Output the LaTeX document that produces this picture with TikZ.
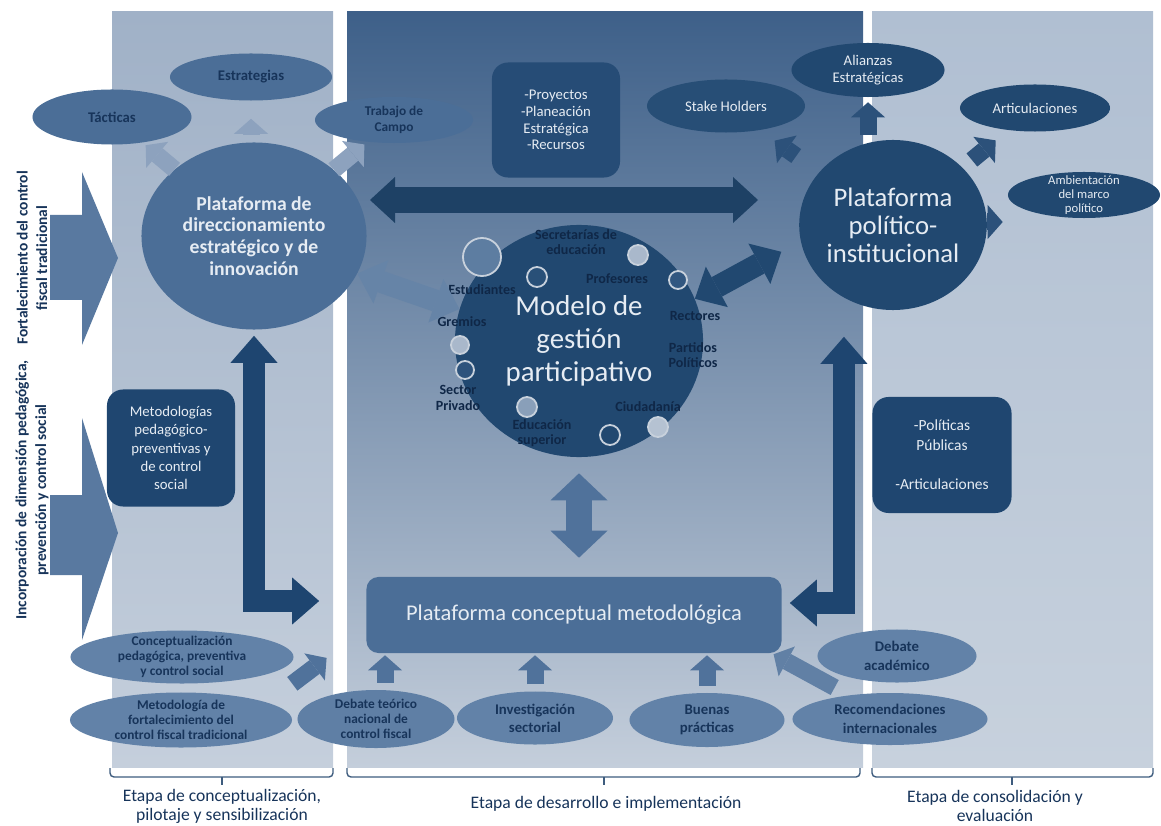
\documentclass[tikz,border=0pt]{standalone}
\usepackage{fontspec}
\setmainfont{Carlito}
\usetikzlibrary{shapes.geometric,arrows.meta,positioning}

% colores
\definecolor{navy}{HTML}{214870}
\definecolor{navytxt}{HTML}{17345A}
\definecolor{darktxt}{HTML}{0F2747}
\definecolor{midblue}{HTML}{4B6E97}
\definecolor{lowblue}{HTML}{6282A8}
\definecolor{boxblue}{HTML}{1F4670}
\definecolor{paleblue}{HTML}{8DA2BE}
\definecolor{arrblue}{HTML}{50729B}
\definecolor{deepblue}{HTML}{1E4570}
\definecolor{ringgrey}{HTML}{C8D1DC}
\definecolor{softwhite}{HTML}{E6ECF3}
\definecolor{brkblue}{HTML}{3E5C7E}
\definecolor{panelLt}{HTML}{A0B1C7}
\definecolor{panelLb}{HTML}{C5CFDC}
\definecolor{panelMt}{HTML}{3E6089}
\definecolor{panelMm}{HTML}{93A7C0}
\definecolor{panelMb}{HTML}{C4CEDB}
\definecolor{panelRt}{HTML}{B0BFD2}
\definecolor{panelRb}{HTML}{C7D1DD}

\tikzset{
  % elipses y cajas
  midell/.style={ellipse, fill=midblue, text=navytxt, inner xsep=0pt, inner ysep=-3mm, align=center,
    font=\fontsize{10.5}{12}\selectfont\bfseries},
  navyell/.style={ellipse, fill=navy, text=softwhite, inner xsep=0pt, inner ysep=-3mm, align=center,
    font=\fontsize{10.5}{12}\selectfont},
  lowell/.style={ellipse, fill=lowblue, text=navytxt, inner xsep=0pt, inner ysep=-3mm, align=center,
    font=\fontsize{9.5}{10.8}\selectfont\bfseries},
  infobox/.style={rectangle, rounded corners=4mm, fill=boxblue, text=softwhite, inner sep=0pt, align=center},
  actor/.style={font=\fontsize{10}{11}\selectfont\bfseries, text=darktxt, align=center, inner sep=0pt},
  ring/.style={circle, draw=ringgrey, line width=0.45mm, inner sep=0pt, fill=midblue},
  etapa/.style={font=\fontsize{12.5}{13.5}\selectfont, text=navytxt, align=center, inner sep=0pt},
  sidelbl/.style={rotate=90, font=\fontsize{11}{14}\selectfont\bfseries, text=navytxt, align=center, inner sep=0pt},
  % flechas
  smallarr/.style={line width=4.25mm, -{Triangle[length=3.75mm,width=8.5mm,line width=0pt]}},
  dblarr/.style={line width=5.5mm,
    {Triangle[length=6.25mm,width=11.5mm,line width=0pt]}-{Triangle[length=6.25mm,width=11.5mm,line width=0pt]}},
  larr/.style={line width=5.5mm, line join=miter, draw=deepblue,
    {Triangle[length=6.75mm,width=11.75mm,line width=0pt]}-{Triangle[length=6.75mm,width=11.75mm,line width=0pt]}},
  bracket/.style={draw=brkblue, line width=0.35mm, rounded corners=1mm},
}

\begin{document}
\begin{tikzpicture}[x=0.025cm, y=-0.025cm]
\useasboundingbox (0,0) rectangle (1161,826);

% columnas de las etapas
\shade[top color=panelLt, bottom color=panelLb] (112,12) rectangle (333,767);
\shade[top color=panelMt, middle color=panelMm, bottom color=panelMb] (347,12) rectangle (863,767);
\shade[top color=panelRt, bottom color=panelRb] (872,12) rectangle (1153,767);

% flechas grandes de la izquierda
\fill[arrblue!95!white] (50,215) -- (82,215) -- (82,172) -- (118,258) -- (82,345) -- (82,300) -- (50,300) -- cycle;
\fill[arrblue!95!white] (50,495) -- (82,495) -- (82,418) -- (118,533) -- (82,640) -- (82,575) -- (50,575) -- cycle;
\node[sidelbl] (fort) at (32,258) {Fortalecimiento del control\\fiscal tradicional};
\node[sidelbl] (incorp) at (32,490) {Incorporación de dimensión pedagógica,\\prevención y control social};

% plataforma de direccionamiento
\node[midell, minimum width=39.75mm, minimum height=13.75mm] (tac) at (112,117) {Tácticas};
\node[midell, minimum width=40.5mm, minimum height=11.75mm] (estr) at (251,77) {Estrategias};
\node[midell, minimum width=39.5mm, minimum height=11.5mm, font=\fontsize{9.5}{11.5}\selectfont\bfseries] (trab) at (394,120) {Trabajo de\\Campo};
\node[ellipse, fill=midblue, text=softwhite, minimum width=56.25mm, minimum height=46.75mm, inner sep=0pt,
  align=center, font=\fontsize{14}{15.5}\selectfont\bfseries] (dir) at (254,236)
  {Plataforma de\\direccionamiento\\estratégico y de\\innovación};
\node[infobox, fill=boxblue!85!midblue, minimum width=32mm, minimum height=28.75mm,
  font=\fontsize{10.5}{12}\selectfont] (proj) at (556,120) {-Proyectos\\-Planeación\\Estratégica\\-Recursos};
\node[infobox, minimum width=32mm, minimum height=29.25mm, font=\fontsize{10.5}{13}\selectfont] (meth) at (171,448)
  {Metodologías\\pedagógico-\\preventivas y\\de control\\social};

% plataforma politico-institucional
\node[navyell, fill=navy!85!midblue, minimum width=39.5mm, minimum height=13.25mm] (stake) at (726,106) {Stake Holders};
\node[navyell, minimum width=38.25mm, minimum height=13.5mm] (alian) at (868,70) {Alianzas\\Estratégicas};
\node[navyell, minimum width=37.5mm, minimum height=11.75mm] (artic) at (1035,108) {Articulaciones};
\node[navyell, minimum width=38mm, minimum height=11.5mm, font=\fontsize{9}{10}\selectfont] (ambi) at (1084,195)
  {Ambientación\\del marco\\político};
\node[ellipse, fill=navy, text=softwhite, minimum width=41.25mm, minimum height=42.5mm, inner sep=0pt,
  align=center, font=\fontsize{19}{20}\selectfont] (pol) at (893,225) {Plataforma\\político-\\institucional};
\node[infobox, minimum width=34.75mm, minimum height=29mm, font=\fontsize{11}{14}\selectfont] (polit) at (942,455)
  {-Políticas\\Públicas\\[14pt]-Articulaciones};

% modelo de gestion
\node[ellipse, fill=navy, text=softwhite, minimum width=62mm, minimum height=58mm, inner sep=0pt,
  align=center, font=\fontsize{20.5}{23.5}\selectfont] (model) at (579,341) {Modelo de\\gestión\\participativo};
\node[ring, minimum size=9.5mm, fill=midblue!90!white] (r1) at (482,257) {};
\node[ring, minimum size=5mm, fill=navy!80!midblue] (r2) at (537,277) {};
\node[ring, minimum size=5mm, fill=ringgrey!75!midblue] (r3) at (638,255) {};
\node[ring, minimum size=4.5mm, fill=navy!60!midblue] (r4) at (678,280) {};
\node[ring, minimum size=4.5mm, fill=ringgrey!75!midblue] (r5) at (460,345) {};
\node[ring, minimum size=4.5mm, fill=navy!70!midblue] (r6) at (465,370) {};
\node[ring, minimum size=5mm, fill=ringgrey!50!midblue] (r7) at (527,407) {};
\node[ring, minimum size=5mm, fill=navy] (r8) at (610,435) {};
\node[ring, minimum size=5mm, fill=ringgrey!85!midblue] (r9) at (658,427) {};
\node[actor] (lsec) at (576,242) {Secretarías de\\educación};
\node[actor] (lprof) at (617,279) {Profesores};
\node[actor] (lest) at (482,290) {Estudiantes};
\node[actor] (lgrem) at (462,322) {Gremios};
\node[actor] (lrect) at (695,316) {Rectores};
\node[actor] (lpart) at (693,355) {Partidos\\Políticos};
\node[actor] (lsect) at (458,398) {Sector\\Privado};
\node[actor] (ledu) at (542,433) {Educación\\superior};
\node[actor] (lciud) at (648,407) {Ciudadanía};

% plataforma conceptual
\node[infobox, rounded corners=3mm, fill=midblue, minimum width=103.75mm, minimum height=19mm,
  font=\fontsize{16}{18}\selectfont] (pcm) at (574,615) {Plataforma conceptual metodológica};
\node[lowell, minimum width=55.75mm, minimum height=13.25mm] (conc) at (182,657) {Conceptualización\\pedagógica, preventiva\\y control social};
\node[lowell, minimum width=55.5mm, minimum height=13.75mm] (metf) at (181,720) {Metodología de\\fortalecimiento del\\control fiscal tradicional};
\node[lowell, fill=lowblue!95!navy, minimum width=39.25mm, minimum height=14.5mm] (deb) at (376,719) {Debate teórico\\nacional de\\control fiscal};
\node[lowell, minimum width=39mm, minimum height=13.25mm, font=\fontsize{10.5}{13}\selectfont\bfseries] (inv) at (535,718) {Investigación\\sectorial};
\node[lowell, minimum width=38.75mm, minimum height=13.5mm, font=\fontsize{10.5}{13}\selectfont\bfseries] (buen) at (707,720) {Buenas\\prácticas};
\node[lowell, minimum width=48.75mm, minimum height=13mm, font=\fontsize{10.5}{13}\selectfont\bfseries] (reco) at (890,719) {Recomendaciones\\internacionales};
\node[lowell, minimum width=39.75mm, minimum height=13.25mm, font=\fontsize{10.5}{13}\selectfont\bfseries] (deba) at (897,656) {Debate\\académico};

% flechas entre plataformas
\coordinate (hl) at (370,200);
\coordinate (hr) at (758,200);
\draw[dblarr, line width=6.25mm, draw=navy!90!black] (hl) -- (hr);
\draw[dblarr, draw=midblue!85!white] (dir.-20) -- (model.165);
\draw[dblarr, draw=navy, shorten >=5.5mm] (model.20) -- (pol.190);
\draw[dblarr, line width=6.5mm, draw=arrblue,
  {Triangle[length=6.75mm,width=14.25mm,line width=0pt]}-{Triangle[length=6.75mm,width=14.25mm,line width=0pt]},
  shorten <=4mm, shorten >=4.75mm] (model.south) -- (model.south |- pcm.north);
\draw[larr, shorten <=1.5mm, shorten >=11.75mm] (dir.south) |- ([yshift=3.5mm]pcm.west);
\draw[larr, shorten <=9.75mm, shorten >=2mm] (pol.236) |- ([yshift=3mm]pcm.east);

% flechas pequenas
\draw[smallarr, draw=paleblue, shorten >=1mm] (dir) -- (tac);
\draw[smallarr, draw=paleblue, shorten <=2mm, shorten >=4.5mm] (dir.north -| estr.south) -- (estr.south);
\draw[smallarr, draw=paleblue, shorten >=1mm] (dir) -- (trab);
\draw[smallarr, draw=navy!75!midblue, shorten <=1.25mm, shorten >=1.25mm] (alian.south |- pol.north) -- (alian.south);
\draw[smallarr, draw=navy!75!midblue, shorten <=7mm, shorten >=4.5mm] (pol) -- (stake);
\draw[smallarr, draw=navy!75!midblue, shorten <=3mm, shorten >=4mm] (pol) -- (artic);
\draw[smallarr, draw=navy!75!midblue, shorten >=1.25mm] ([yshift=0.75mm]pol.east) -- ([yshift=0.75mm]pol.east -| ambi.west);
\draw[smallarr, draw=arrblue, shorten >=12.4mm] (metf.east |- conc.south) -- ([yshift=-3.25mm]pcm.west);
\draw[smallarr, draw=arrblue, shorten <=1.75mm, shorten >=0.5mm] ([xshift=2.25mm]deb.north) -- ([xshift=2.25mm]deb.north |- pcm.south);
\draw[smallarr, draw=arrblue, shorten <=1.75mm, shorten >=0.5mm] (inv.north) -- (inv.north |- pcm.south);
\draw[smallarr, draw=arrblue, shorten <=1.75mm, shorten >=0.5mm] (buen.north) -- (buen.north |- pcm.south);
\draw[smallarr, draw=arrblue!90!white, shorten <=4mm, shorten >=0.5mm] (reco.150) -- ([xshift=-2.5mm]pcm.south east);

% etapas
\draw[bracket] (110,768) -- (110,777) -- (333,777) -- (333,768);
\draw[bracket] (222,777) -- (222,785);
\draw[bracket] (347,768) -- (347,777) -- (860,777) -- (860,768);
\draw[bracket] (604,777) -- (604,785);
\draw[bracket] (872,768) -- (872,777) -- (1153,777) -- (1153,768);
\draw[bracket] (1012,777) -- (1012,785);
\node[etapa] (et1) at (222,806) {Etapa de conceptualización,\\pilotaje y sensibilización};
\node[etapa] (et2) at (606,804) {Etapa de desarrollo e implementación};
\node[etapa] (et3) at (995,806) {Etapa de consolidación y\\evaluación};
\end{tikzpicture}
\end{document}
